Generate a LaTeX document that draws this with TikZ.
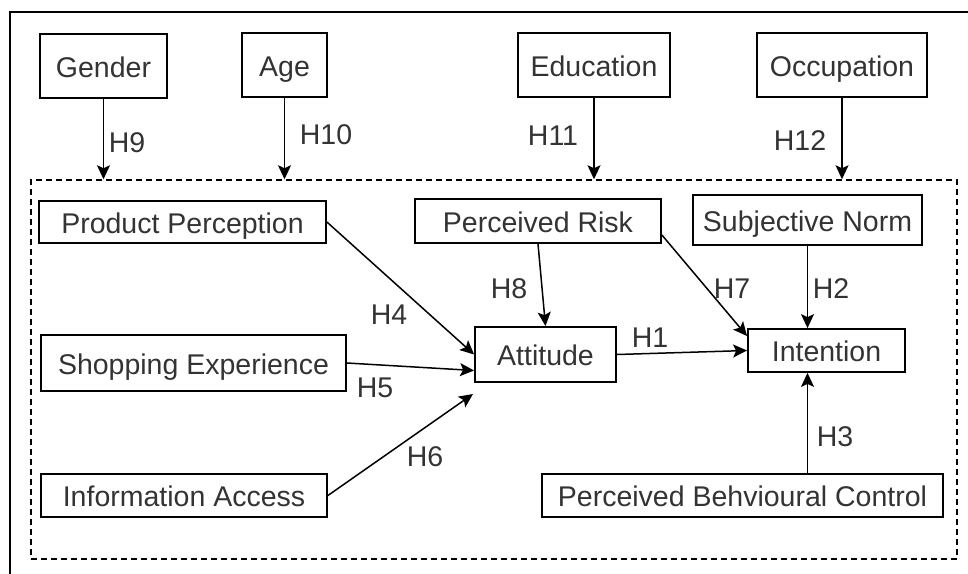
\documentclass[tikz,border=0pt]{standalone}
\usepackage{fontspec}
\setmainfont{Liberation Sans}
\usetikzlibrary{arrows.meta,calc}
\begin{document}
\begin{tikzpicture}[x=1pt,y=-1pt,
  lbl/.style={font=\fontsize{28.5}{32}\selectfont, text=black!80, inner sep=0pt,
    text height=22pt, text depth=0pt},
  box/.style 2 args={lbl, draw=black, line width=1.8pt,
    minimum width=#1, minimum height=#2},
  arr/.style={line width=1.5pt, -{Stealth[length=14pt,width=13pt,inset=3pt]}},
  grp/.style={draw=black, line width=1.5pt, dash pattern=on 6pt off 4pt}
]
\useasboundingbox (0,0) rectangle (968,573);
% outer frame (only its left and top sides fall inside the page)
\draw[line width=1.8pt] (10,580) -- (10,12) -- (980,12);

% dashed group around the model
\node[grp, minimum width=926, minimum height=379, inner sep=0pt] (model) at (494,369.5) {};

% demographic moderators
\node[box={127}{64}] (gender) at (103.5,66) {Gender};
\node[box={85}{64}]  (age)    at (284.5,65) {Age};
\node[box={152}{64}] (edu)    at (594,65)   {Education};
\node[box={170}{64}] (occ)    at (842,65)   {Occupation};

% constructs
\node[box={287}{42}] (pp)   at (182.5,222) {Product Perception};
\node[box={305}{56}] (se)   at (193.5,363) {Shopping Experience};
\node[box={286}{43}] (ia)   at (184,495.5) {Information Access};
\node[box={246}{44}] (pr)   at (538,221)   {Perceived Risk};
\node[box={229}{50}] (sn)   at (807.5,220) {Subjective Norm};
\node[box={141}{55}] (att)  at (545.5,354.5) {Attitude};
\node[box={157}{43}] (int)  at (826.5,350.5) {Intention};
\node[box={401}{43}] (pbc)  at (742.5,495.5) {Perceived Behvioural Control};

\coordinate (iaend) at (473,394);

% moderator arrows onto the group
\draw[arr] (gender) -- (gender |- model.north);
\draw[arr] (age) -- (age |- model.north);
\draw[arr] (edu) -- (edu |- model.north);
\draw[arr] (occ) -- (occ |- model.north);

% structural paths
\draw[arr] (pp.east) -- (att.west);
\draw[arr] (se.east) -- ([yshift=-16pt]att.west);
\draw[arr] (ia.east) -- (iaend);
\draw[arr] (pr.south) -- (att.north);
\draw[arr] ([yshift=-14pt]pr.east) -- ([yshift=-8pt]int.north west);
\draw[arr] (sn.south) -- (sn.south |- int.north);
\draw[arr] (att.east) -- (int.west);
\draw[arr] (pbc.north -| sn.south) -- (sn.south |- int.south);

% hypothesis labels
\node[lbl] (h9)  at (127,141) {H9};
\node[lbl] (h10) at (326,133) {H10};
\node[lbl] (h11) at (553,134) {H11};
\node[lbl] (h12) at (800,139) {H12};
\node[lbl] (h4)  at (389,313) {H4};
\node[lbl] (h5)  at (375,386) {H5};
\node[lbl] (h6)  at (425,455) {H6};
\node[lbl] (h8)  at (509,287) {H8};
\node[lbl] (h7)  at (732,287) {H7};
\node[lbl] (h2)  at (831,287) {H2};
\node[lbl] (h1)  at (650,336) {H1};
\node[lbl] (h3)  at (835,435) {H3};
\end{tikzpicture}
\end{document}
